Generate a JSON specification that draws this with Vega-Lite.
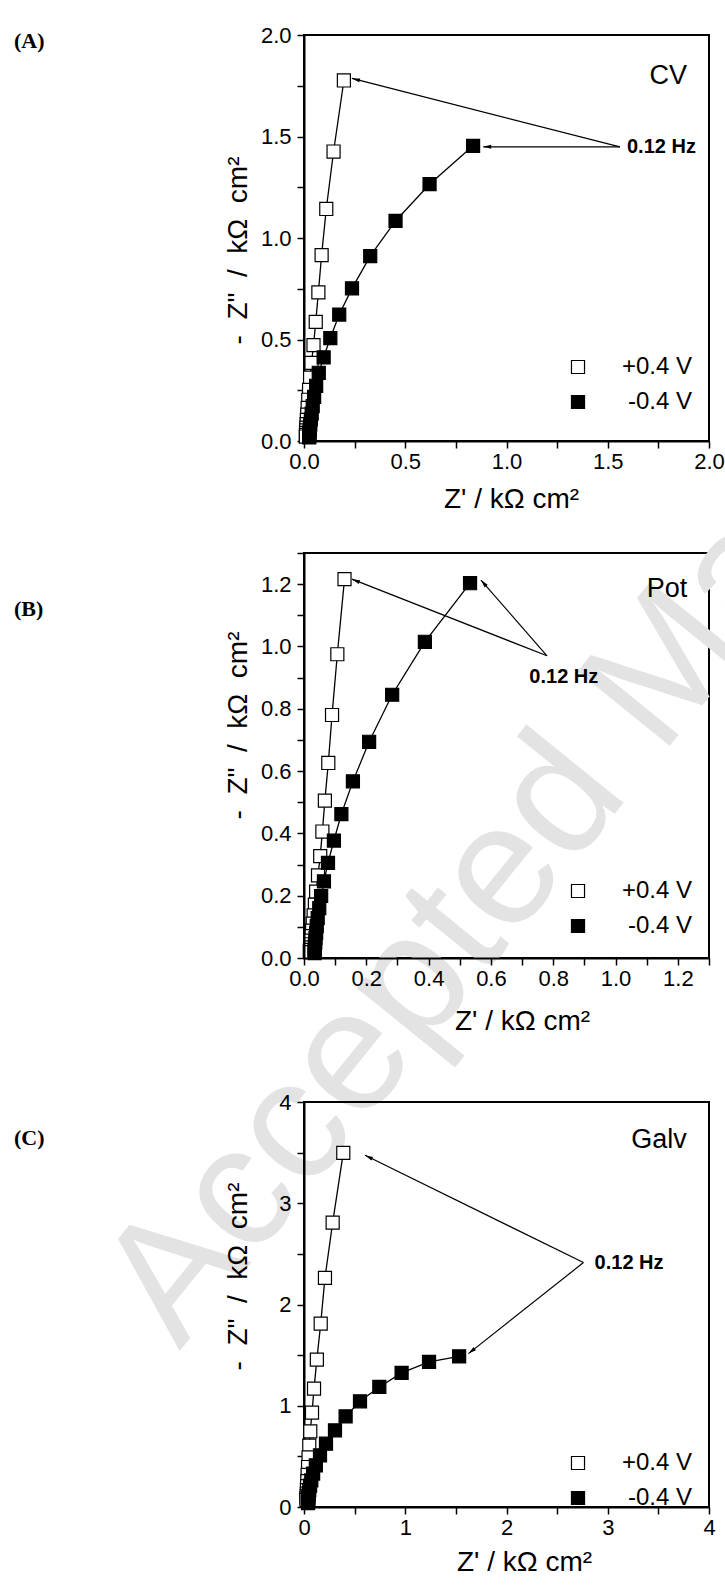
{
"$schema": "https://vega.github.io/schema/vega-lite/v6.json",
"padding": {"left": 12, "top": 23, "right": 0, "bottom": 0},
"background": "white",
"datasets": {
"A": [
{"s":"+0.4 V","i":1,"x":0.197,"y":1.776},{"s":"+0.4 V","i":2,"x":0.146,"y":1.426},{"s":"+0.4 V","i":3,"x":0.110,"y":1.143},{"s":"+0.4 V","i":4,"x":0.087,"y":0.916},{"s":"+0.4 V","i":5,"x":0.071,"y":0.732},{"s":"+0.4 V","i":6,"x":0.058,"y":0.587},{"s":"+0.4 V","i":7,"x":0.047,"y":0.472},{"s":"+0.4 V","i":8,"x":0.037,"y":0.385},{"s":"+0.4 V","i":9,"x":0.030,"y":0.312},{"s":"+0.4 V","i":10,"x":0.025,"y":0.252},{"s":"+0.4 V","i":11,"x":0.021,"y":0.203},{"s":"+0.4 V","i":12,"x":0.018,"y":0.163},{"s":"+0.4 V","i":13,"x":0.016,"y":0.130},{"s":"+0.4 V","i":14,"x":0.014,"y":0.104},{"s":"+0.4 V","i":15,"x":0.013,"y":0.083},{"s":"+0.4 V","i":16,"x":0.012,"y":0.066},{"s":"+0.4 V","i":17,"x":0.011,"y":0.052},{"s":"+0.4 V","i":18,"x":0.010,"y":0.040},{"s":"+0.4 V","i":19,"x":0.010,"y":0.030},{"s":"+0.4 V","i":20,"x":0.009,"y":0.022},
{"s":"-0.4 V","i":1,"x":0.835,"y":1.454},{"s":"-0.4 V","i":2,"x":0.620,"y":1.265},{"s":"-0.4 V","i":3,"x":0.452,"y":1.084},{"s":"-0.4 V","i":4,"x":0.327,"y":0.911},{"s":"-0.4 V","i":5,"x":0.237,"y":0.752},{"s":"-0.4 V","i":6,"x":0.174,"y":0.623},{"s":"-0.4 V","i":7,"x":0.130,"y":0.507},{"s":"-0.4 V","i":8,"x":0.097,"y":0.412},{"s":"-0.4 V","i":9,"x":0.073,"y":0.336},{"s":"-0.4 V","i":10,"x":0.060,"y":0.272},{"s":"-0.4 V","i":11,"x":0.050,"y":0.217},{"s":"-0.4 V","i":12,"x":0.043,"y":0.172},{"s":"-0.4 V","i":13,"x":0.038,"y":0.135},{"s":"-0.4 V","i":14,"x":0.034,"y":0.106},{"s":"-0.4 V","i":15,"x":0.031,"y":0.082},{"s":"-0.4 V","i":16,"x":0.029,"y":0.063},{"s":"-0.4 V","i":17,"x":0.028,"y":0.048},{"s":"-0.4 V","i":18,"x":0.027,"y":0.036},{"s":"-0.4 V","i":19,"x":0.026,"y":0.026},{"s":"-0.4 V","i":20,"x":0.026,"y":0.018}
],
"B": [
{"s":"+0.4 V","i":1,"x":0.130,"y":1.216},{"s":"+0.4 V","i":2,"x":0.107,"y":0.975},{"s":"+0.4 V","i":3,"x":0.090,"y":0.780},{"s":"+0.4 V","i":4,"x":0.078,"y":0.626},{"s":"+0.4 V","i":5,"x":0.067,"y":0.505},{"s":"+0.4 V","i":6,"x":0.059,"y":0.406},{"s":"+0.4 V","i":7,"x":0.052,"y":0.327},{"s":"+0.4 V","i":8,"x":0.045,"y":0.265},{"s":"+0.4 V","i":9,"x":0.039,"y":0.213},{"s":"+0.4 V","i":10,"x":0.035,"y":0.171},{"s":"+0.4 V","i":11,"x":0.031,"y":0.137},{"s":"+0.4 V","i":12,"x":0.028,"y":0.110},{"s":"+0.4 V","i":13,"x":0.026,"y":0.088},{"s":"+0.4 V","i":14,"x":0.024,"y":0.070},{"s":"+0.4 V","i":15,"x":0.022,"y":0.056},{"s":"+0.4 V","i":16,"x":0.021,"y":0.044},{"s":"+0.4 V","i":17,"x":0.020,"y":0.034},{"s":"+0.4 V","i":18,"x":0.019,"y":0.026},{"s":"+0.4 V","i":19,"x":0.019,"y":0.019},
{"s":"-0.4 V","i":1,"x":0.533,"y":1.203},{"s":"-0.4 V","i":2,"x":0.388,"y":1.015},{"s":"-0.4 V","i":3,"x":0.283,"y":0.845},{"s":"-0.4 V","i":4,"x":0.209,"y":0.694},{"s":"-0.4 V","i":5,"x":0.157,"y":0.567},{"s":"-0.4 V","i":6,"x":0.120,"y":0.462},{"s":"-0.4 V","i":7,"x":0.096,"y":0.377},{"s":"-0.4 V","i":8,"x":0.077,"y":0.305},{"s":"-0.4 V","i":9,"x":0.064,"y":0.246},{"s":"-0.4 V","i":10,"x":0.055,"y":0.199},{"s":"-0.4 V","i":11,"x":0.049,"y":0.160},{"s":"-0.4 V","i":12,"x":0.044,"y":0.128},{"s":"-0.4 V","i":13,"x":0.041,"y":0.102},{"s":"-0.4 V","i":14,"x":0.039,"y":0.081},{"s":"-0.4 V","i":15,"x":0.037,"y":0.064},{"s":"-0.4 V","i":16,"x":0.036,"y":0.050},{"s":"-0.4 V","i":17,"x":0.035,"y":0.039},{"s":"-0.4 V","i":18,"x":0.035,"y":0.030},{"s":"-0.4 V","i":19,"x":0.034,"y":0.022},{"s":"-0.4 V","i":20,"x":0.034,"y":0.016}
],
"C": [
{"s":"+0.4 V","i":1,"x":0.388,"y":3.498},{"s":"+0.4 V","i":2,"x":0.283,"y":2.809},{"s":"+0.4 V","i":3,"x":0.207,"y":2.263},{"s":"+0.4 V","i":4,"x":0.165,"y":1.811},{"s":"+0.4 V","i":5,"x":0.127,"y":1.456},{"s":"+0.4 V","i":6,"x":0.099,"y":1.169},{"s":"+0.4 V","i":7,"x":0.079,"y":0.932},{"s":"+0.4 V","i":8,"x":0.062,"y":0.747},{"s":"+0.4 V","i":9,"x":0.052,"y":0.605},{"s":"+0.4 V","i":10,"x":0.045,"y":0.490},{"s":"+0.4 V","i":11,"x":0.040,"y":0.395},{"s":"+0.4 V","i":12,"x":0.036,"y":0.318},{"s":"+0.4 V","i":13,"x":0.033,"y":0.256},{"s":"+0.4 V","i":14,"x":0.031,"y":0.206},{"s":"+0.4 V","i":15,"x":0.029,"y":0.166},{"s":"+0.4 V","i":16,"x":0.028,"y":0.133},{"s":"+0.4 V","i":17,"x":0.027,"y":0.107},{"s":"+0.4 V","i":18,"x":0.026,"y":0.086},{"s":"+0.4 V","i":19,"x":0.025,"y":0.069},
{"s":"-0.4 V","i":1,"x":1.532,"y":1.488},{"s":"-0.4 V","i":2,"x":1.235,"y":1.433},{"s":"-0.4 V","i":3,"x":0.964,"y":1.324},{"s":"-0.4 V","i":4,"x":0.744,"y":1.186},{"s":"-0.4 V","i":5,"x":0.553,"y":1.044},{"s":"-0.4 V","i":6,"x":0.411,"y":0.895},{"s":"-0.4 V","i":7,"x":0.306,"y":0.757},{"s":"-0.4 V","i":8,"x":0.217,"y":0.625},{"s":"-0.4 V","i":9,"x":0.158,"y":0.510},{"s":"-0.4 V","i":10,"x":0.117,"y":0.412},{"s":"-0.4 V","i":11,"x":0.090,"y":0.330},{"s":"-0.4 V","i":12,"x":0.072,"y":0.264},{"s":"-0.4 V","i":13,"x":0.060,"y":0.210},{"s":"-0.4 V","i":14,"x":0.052,"y":0.167},{"s":"-0.4 V","i":15,"x":0.047,"y":0.132},{"s":"-0.4 V","i":16,"x":0.044,"y":0.104},{"s":"-0.4 V","i":17,"x":0.042,"y":0.082},{"s":"-0.4 V","i":18,"x":0.041,"y":0.064},{"s":"-0.4 V","i":19,"x":0.040,"y":0.050},{"s":"-0.4 V","i":20,"x":0.040,"y":0.039}
],
"annA": [
{"role":"arrow1","x":0.237,"y":1.786,"xs":1.56,"ys":1.449},
{"role":"arrow2","x":0.885,"y":1.449,"xs":1.56,"ys":1.449},
{"role":"hz","t":"0.12 Hz","x":1.595,"y":1.449},
{"role":"name","t":"CV","x":1.891,"y":1.80},
{"role":"panel","t":"(A)","x":-1.432,"y":1.97}
],
"annB": [
{"role":"wm","t":"Accepted Ma","x":-0.40,"y":-1.262},
{"role":"arrow1","x":0.154,"y":1.216,"xs":0.78,"ys":0.97},
{"role":"arrow2","x":0.568,"y":1.213,"xs":0.78,"ys":0.97},
{"role":"hz","t":"0.12 Hz","x":0.834,"y":0.902},
{"role":"name","t":"Pot","x":1.23,"y":1.183},
{"role":"panel","t":"(B)","x":-0.931,"y":1.12}
],
"annC": [
{"role":"arrow1","x":0.603,"y":3.474,"xs":2.76,"ys":2.414},
{"role":"arrow2","x":1.624,"y":1.515,"xs":2.76,"ys":2.414},
{"role":"hz","t":"0.12 Hz","x":2.87,"y":2.414},
{"role":"name","t":"Galv","x":3.78,"y":3.62},
{"role":"panel","t":"(C)","x":-2.864,"y":3.64}
]
},
"resolve": {"scale": {"fill": "independent"}, "legend": {"fill": "independent"}},
"vconcat": [
{
"width": 405, "height": 406,
"encoding": {
"x": {"field":"x","type":"quantitative","scale":{"domain":[0,2],"nice":false,"zero":false},"axis":{"title":"Z' / kΩ cm²","values":[0,0.25,0.5,0.75,1,1.25,1.5,1.75,2],"labelExpr":"abs(datum.value*2-round(datum.value*2))<0.001 ? format(datum.value,'.1f') : ''","titleY":66,"titleX":207}},
"y": {"field":"y","type":"quantitative","scale":{"domain":[0,2],"nice":false,"zero":false},"axis":{"title":"- \u00a0Z\" \u00a0/ \u00a0kΩ \u00a0cm²","values":[0,0.25,0.5,0.75,1,1.25,1.5,1.75,2],"labelExpr":"abs(datum.value*2-round(datum.value*2))<0.001 ? format(datum.value,'.1f') : ''","titleY":215}}
},
"layer": [
{"data":{"name":"A"},"mark":{"type":"line","color":"black","strokeWidth":1.3},"encoding":{"detail":{"field":"s","type":"nominal"},"order":{"field":"i","type":"quantitative"}}},
{"data":{"name":"A"},"mark":{"type":"point","shape":"square","filled":true,"size":170,"stroke":"black","strokeWidth":1.2,"opacity":1},"encoding":{"fill":{"field":"s","type":"nominal","scale":{"domain":["+0.4 V","-0.4 V"],"range":["white","black"]},"legend":{"title":null,"orient":"none","legendX":262,"legendY":320}}}},
{"data":{"name":"annA"},"transform":[{"filter":{"field":"role","oneOf":["arrow1","arrow2"]}}],"mark":{"type":"rule","color":"black","strokeWidth":1.2},"encoding":{"x2":{"field":"xs"},"y2":{"field":"ys"}}},
{"data":{"name":"annA"},"transform":[{"filter":{"field":"role","equal":"arrow1"}}],"mark":{"type":"point","shape":"M0,0L-0.5,2L0.5,2Z","filled":true,"color":"black","size":64,"angle":284,"opacity":1,"strokeWidth":0},"encoding":{}},
{"data":{"name":"annA"},"transform":[{"filter":{"field":"role","equal":"arrow2"}}],"mark":{"type":"point","shape":"M0,0L-0.5,2L0.5,2Z","filled":true,"color":"black","size":64,"angle":270,"opacity":1,"strokeWidth":0},"encoding":{}},
{"data":{"name":"annA"},"transform":[{"filter":{"field":"role","equal":"hz"}}],"mark":{"type":"text","align":"left","baseline":"middle","font":"Liberation Sans","fontSize":20,"fontWeight":"bold","color":"black"},"encoding":{"text":{"field":"t"}}},
{"data":{"name":"annA"},"transform":[{"filter":{"field":"role","equal":"name"}}],"mark":{"type":"text","align":"right","baseline":"middle","font":"Liberation Sans","fontSize":27,"color":"black"},"encoding":{"text":{"field":"t"}}},
{"data":{"name":"annA"},"transform":[{"filter":{"field":"role","equal":"panel"}}],"mark":{"type":"text","align":"left","baseline":"middle","font":"Liberation Serif","fontSize":22,"fontWeight":"bold","color":"black"},"encoding":{"text":{"field":"t"}}}
]
},
{"width": 405, "height": 112, "view": {"stroke": null}, "data": {"values": [{"t": ""}]}, "mark": {"type": "text", "opacity": 0}, "encoding": {"text": {"field": "t"}}},
{
"width": 405, "height": 405,
"encoding": {
"x": {"field":"x","type":"quantitative","scale":{"domain":[0,1.3],"nice":false,"zero":false},"axis":{"title":"Z' / kΩ cm²","zindex":1,"values":[0,0.1,0.2,0.3,0.4,0.5,0.6,0.7,0.8,0.9,1,1.1,1.2,1.3],"labelExpr":"abs(datum.value*5-round(datum.value*5))<0.001 ? format(datum.value,'.1f') : ''","titleY":71,"titleX":218}},
"y": {"field":"y","type":"quantitative","scale":{"domain":[0,1.3],"nice":false,"zero":false},"axis":{"title":"- \u00a0Z\" \u00a0/ \u00a0kΩ \u00a0cm²","zindex":1,"values":[0,0.1,0.2,0.3,0.4,0.5,0.6,0.7,0.8,0.9,1,1.1,1.2,1.3],"labelExpr":"abs(datum.value*5-round(datum.value*5))<0.001 ? format(datum.value,'.1f') : ''","titleY":172}}
},
"layer": [
{"data":{"name":"annB"},"transform":[{"filter":{"field":"role","equal":"wm"}}],"mark":{"type":"text","align":"left","baseline":"alphabetic","angle":309,"font":"Liberation Sans","fontSize":172,"color":"#e3e3e3"},"encoding":{"text":{"field":"t"}}},
{"data":{"name":"B"},"mark":{"type":"line","color":"black","strokeWidth":1.3},"encoding":{"detail":{"field":"s","type":"nominal"},"order":{"field":"i","type":"quantitative"}}},
{"data":{"name":"B"},"mark":{"type":"point","shape":"square","filled":true,"size":170,"stroke":"black","strokeWidth":1.2,"opacity":1},"encoding":{"fill":{"field":"s","type":"nominal","scale":{"domain":["+0.4 V","-0.4 V"],"range":["white","black"]},"legend":{"title":null,"orient":"none","legendX":262,"legendY":326}}}},
{"data":{"name":"annB"},"transform":[{"filter":{"field":"role","oneOf":["arrow1","arrow2"]}}],"mark":{"type":"rule","color":"black","strokeWidth":1.2},"encoding":{"x2":{"field":"xs"},"y2":{"field":"ys"}}},
{"data":{"name":"annB"},"transform":[{"filter":{"field":"role","equal":"arrow1"}}],"mark":{"type":"point","shape":"M0,0L-0.5,2L0.5,2Z","filled":true,"color":"black","size":64,"angle":291,"opacity":1,"strokeWidth":0},"encoding":{}},
{"data":{"name":"annB"},"transform":[{"filter":{"field":"role","equal":"arrow2"}}],"mark":{"type":"point","shape":"M0,0L-0.5,2L0.5,2Z","filled":true,"color":"black","size":64,"angle":319,"opacity":1,"strokeWidth":0},"encoding":{}},
{"data":{"name":"annB"},"transform":[{"filter":{"field":"role","equal":"hz"}}],"mark":{"type":"text","align":"center","baseline":"middle","font":"Liberation Sans","fontSize":20,"fontWeight":"bold","color":"black"},"encoding":{"text":{"field":"t"}}},
{"data":{"name":"annB"},"transform":[{"filter":{"field":"role","equal":"name"}}],"mark":{"type":"text","align":"right","baseline":"middle","font":"Liberation Sans","fontSize":27,"color":"black"},"encoding":{"text":{"field":"t"}}},
{"data":{"name":"annB"},"transform":[{"filter":{"field":"role","equal":"panel"}}],"mark":{"type":"text","align":"left","baseline":"middle","font":"Liberation Serif","fontSize":22,"fontWeight":"bold","color":"black"},"encoding":{"text":{"field":"t"}}}
]
},
{"width": 405, "height": 144, "view": {"stroke": null}, "data": {"values": [{"t": ""}]}, "mark": {"type": "text", "opacity": 0}, "encoding": {"text": {"field": "t"}}},
{
"width": 405, "height": 405,
"encoding": {
"x": {"field":"x","type":"quantitative","scale":{"domain":[0,4],"nice":false,"zero":false},"axis":{"title":"Z' / kΩ cm²","values":[0,0.5,1,1.5,2,2.5,3,3.5,4],"labelExpr":"abs(datum.value-round(datum.value))<0.001 ? format(datum.value,'d') : ''","titleY":63,"titleX":220}},
"y": {"field":"y","type":"quantitative","scale":{"domain":[0,4],"nice":false,"zero":false},"axis":{"title":"- \u00a0Z\" \u00a0/ \u00a0kΩ \u00a0cm²","values":[0,0.5,1,1.5,2,2.5,3,3.5,4],"labelExpr":"abs(datum.value-round(datum.value))<0.001 ? format(datum.value,'d') : ''","titleY":174}}
},
"layer": [
{"data":{"name":"C"},"mark":{"type":"line","color":"black","strokeWidth":1.3},"encoding":{"detail":{"field":"s","type":"nominal"},"order":{"field":"i","type":"quantitative"}}},
{"data":{"name":"C"},"mark":{"type":"point","shape":"square","filled":true,"size":170,"stroke":"black","strokeWidth":1.2,"opacity":1},"encoding":{"fill":{"field":"s","type":"nominal","scale":{"domain":["+0.4 V","-0.4 V"],"range":["white","black"]},"legend":{"title":null,"orient":"none","legendX":262,"legendY":349}}}},
{"data":{"name":"annC"},"transform":[{"filter":{"field":"role","oneOf":["arrow1","arrow2"]}}],"mark":{"type":"rule","color":"black","strokeWidth":1.2},"encoding":{"x2":{"field":"xs"},"y2":{"field":"ys"}}},
{"data":{"name":"annC"},"transform":[{"filter":{"field":"role","equal":"arrow1"}}],"mark":{"type":"point","shape":"M0,0L-0.5,2L0.5,2Z","filled":true,"color":"black","size":64,"angle":296,"opacity":1,"strokeWidth":0},"encoding":{}},
{"data":{"name":"annC"},"transform":[{"filter":{"field":"role","equal":"arrow2"}}],"mark":{"type":"point","shape":"M0,0L-0.5,2L0.5,2Z","filled":true,"color":"black","size":64,"angle":232,"opacity":1,"strokeWidth":0},"encoding":{}},
{"data":{"name":"annC"},"transform":[{"filter":{"field":"role","equal":"hz"}}],"mark":{"type":"text","align":"left","baseline":"middle","font":"Liberation Sans","fontSize":20,"fontWeight":"bold","color":"black"},"encoding":{"text":{"field":"t"}}},
{"data":{"name":"annC"},"transform":[{"filter":{"field":"role","equal":"name"}}],"mark":{"type":"text","align":"right","baseline":"middle","font":"Liberation Sans","fontSize":27,"color":"black"},"encoding":{"text":{"field":"t"}}},
{"data":{"name":"annC"},"transform":[{"filter":{"field":"role","equal":"panel"}}],"mark":{"type":"text","align":"left","baseline":"middle","font":"Liberation Serif","fontSize":22,"fontWeight":"bold","color":"black"},"encoding":{"text":{"field":"t"}}}
]
}
],
"spacing": 0,
"bounds": "flush",
"config": {
"view": {"stroke": "black", "strokeWidth": 2},
"axis": {"domainColor":"black","domainWidth":2,"tickColor":"black","tickWidth":1.5,"tickSize":7,"labelFont":"Liberation Sans","labelFontSize":22,"labelColor":"black","labelFlush":false,"labelOverlap":false,"labelBound":false,"titleFont":"Liberation Sans","titleFontSize":28,"titleFontWeight":"normal","titleColor":"black","grid":false},
"axisX": {"labelPadding":3,"titleBaseline":"alphabetic","titleAlign":"center","titleX":215},
"axisY": {"labelPadding":6,"titleAngle":270,"titleBaseline":"alphabetic","titleAlign":"center","titleX":-58},
"legend": {"symbolType":"square","symbolSize":170,"symbolStrokeColor":"black","symbolStrokeWidth":1.2,"labelFont":"Liberation Sans","labelFontSize":24,"labelColor":"black","padding":0,"rowPadding":11,"labelAlign":"right","labelOffset":102}
}
}
